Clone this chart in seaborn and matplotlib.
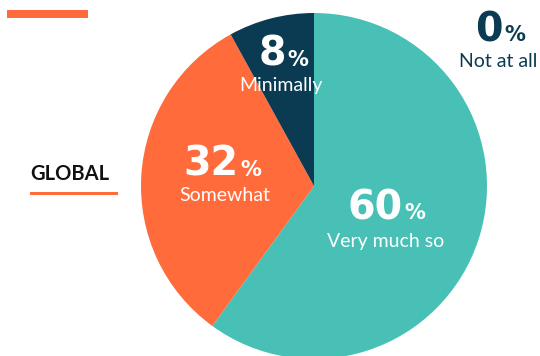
import matplotlib
matplotlib.use("Agg")
import matplotlib.pyplot as plt
import seaborn as sns
from matplotlib.patches import Rectangle

categories = ["Very much so", "Somewhat", "Minimally", "Not at all"]
values = [60, 32, 8, 0]
colors = ["#48C0B5", "#FF6B3A", "#0B3B52", "#0B3B52"]
section_label = "GLOBAL"

sns.set_theme(style="white")
plt.rcParams["font.family"] = ["Lato", "DejaVu Sans"]

W, H = 540, 356
fig = plt.figure(figsize=(W / 100, H / 100), dpi=100)
fig.patch.set_facecolor("white")

cx, cy, r = 314, 186, 173
ax = fig.add_axes([(cx - r) / W, 1 - (cy + r) / H, 2 * r / W, 2 * r / H])
ax.pie(values, colors=colors, startangle=90, counterclock=False, radius=1,
       wedgeprops=dict(linewidth=0))
ax.set_xlim(-1, 1)
ax.set_ylim(-1, 1)
ax.set_aspect("equal")
ax.axis("off")

def px(x, y):
    return x / W, 1 - y / H

# (x_split, num_baseline, label_center, label_baseline, color)
layout = [
    (403, 219, 386, 247, "white"),
    (239, 176, 225, 201, "white"),
    (286, 66, 281, 91, "white"),
    (503, 41, 498, 67, "#0B3B52"),
]
for cat, val, (xs, nb, lc, lb, col) in zip(categories, values, layout):
    fig.text(*px(xs, nb), f"{val}", ha="right", va="baseline", fontsize=28.5,
             fontweight="bold", color=col, family=["DejaVu Sans"])
    fig.text(*px(xs + 1, nb), "%", ha="left", va="baseline", fontsize=15,
             fontweight="bold", color=col, family=["DejaVu Sans"])
    fig.text(*px(lc, lb), cat, ha="center", va="baseline", fontsize=14,
             color=col)

# decorative bars
fig.patches.append(Rectangle(px(7, 18), 81 / W, 8 / H, transform=fig.transFigure,
                             facecolor="#FF6B3A", edgecolor="none"))
fig.patches.append(Rectangle(px(30, 195), 88 / W, 3 / H, transform=fig.transFigure,
                             facecolor="#FF6B3A", edgecolor="none"))
fig.text(*px(30, 180), section_label, ha="left", va="baseline", fontsize=14.5,
         fontweight="bold", color="#111111")

fig.savefig("out.png", dpi=100, facecolor="white")
